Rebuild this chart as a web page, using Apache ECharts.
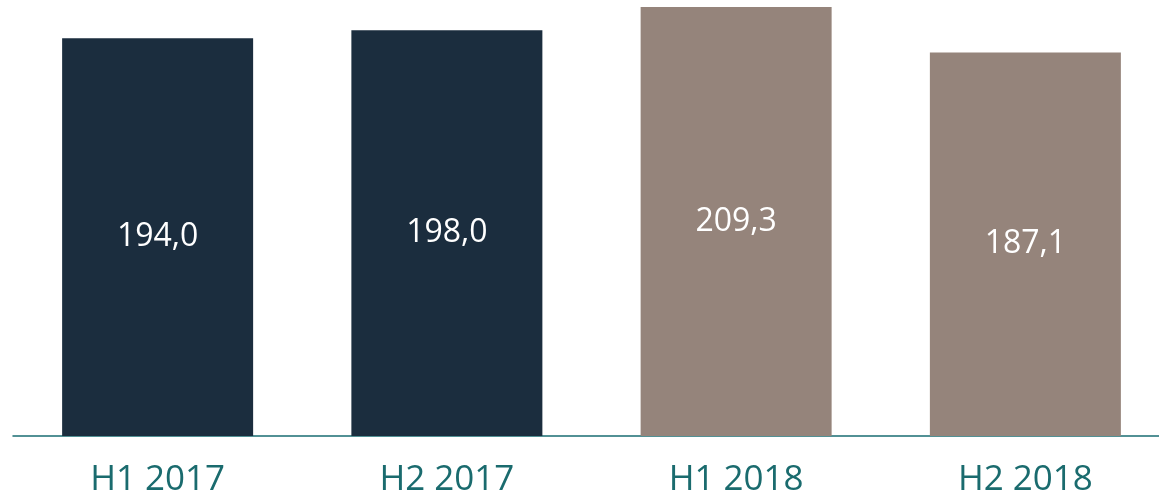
<!DOCTYPE html>
<html>
<head>
<meta charset="utf-8">
<script src="https://cdn.jsdelivr.net/npm/echarts@6/dist/echarts.min.js"></script>
<style>
  html, body { margin: 0; padding: 0; background: #fff; }
  #chart { width: 1159px; height: 495px; }
</style>
</head>
<body>
<div id="chart"></div>
<script>
// half-year categories and values
const categories = ['H1 2017', 'H2 2017', 'H1 2018', 'H2 2018'];
const values = [194.0, 198.0, 209.3, 187.1];
const barColors = ['#1b2d3e', '#1b2d3e', '#95847b', '#95847b'];

const chart = echarts.init(document.getElementById('chart'));

chart.setOption({
  animation: false,
  grid: { left: 13, right: -11, top: 0, bottom: 59, outerBoundsMode: 'none', containLabel: false },
  xAxis: {
    type: 'category',
    data: categories,
    axisTick: { show: false },
    axisLine: { lineStyle: { color: '#1a6e73', width: 1.5 } },
    axisLabel: {
      color: '#1a6b6e',
      fontFamily: 'Open Sans',
      fontSize: 35,
      margin: 27
    }
  },
  yAxis: {
    type: 'value',
    min: 0,
    max: 212.7,
    show: false,
    splitLine: { show: false }
  },
  series: [{
    type: 'bar',
    barWidth: 191,
    data: values.map((v, i) => ({ value: v, itemStyle: { color: barColors[i] } })),
    label: {
      show: true,
      position: 'inside',
      color: '#ffffff',
      fontFamily: 'Open Sans',
      fontSize: 32,
      formatter: p => p.value.toFixed(1).replace('.', ',')
    }
  }]
});
</script>
</body>
</html>
